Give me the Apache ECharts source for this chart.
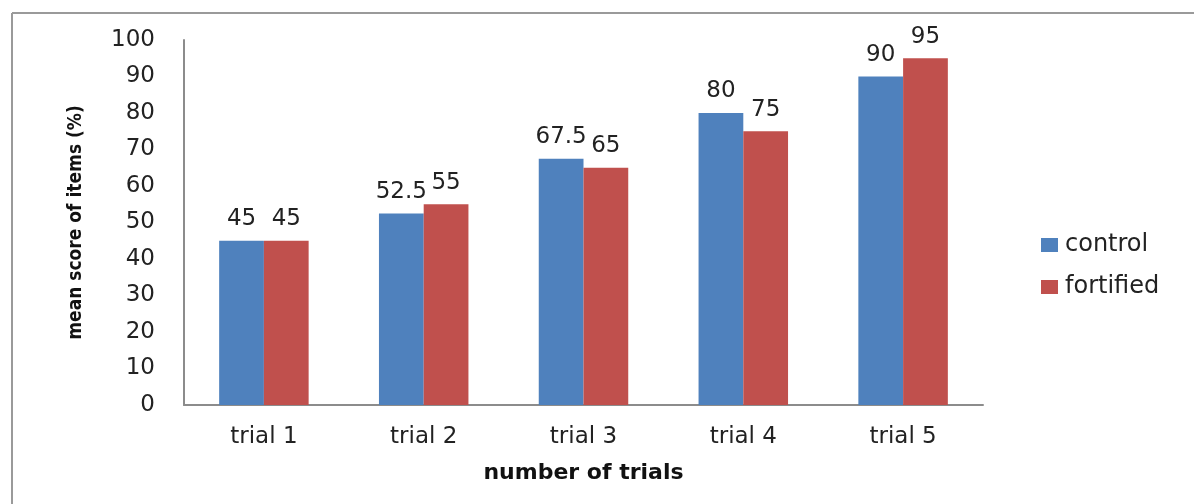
<!DOCTYPE html>
<html>
<head>
<meta charset="utf-8">
<script src="https://cdn.jsdelivr.net/npm/echarts@6/dist/echarts.min.js"></script>
<style>html,body{margin:0;padding:0;background:#fff}#c{width:1194px;height:504px}</style>
</head>
<body>
<div id="c"></div>
<script>
const categories = ['trial 1', 'trial 2', 'trial 3', 'trial 4', 'trial 5'];
const controlValues = [45, 52.5, 67.5, 80, 90];
const fortifiedValues = [45, 55, 65, 75, 95];
const yTicks = [0, 10, 20, 30, 40, 50, 60, 70, 80, 90, 100];

const chart = echarts.init(document.getElementById('c'));
const FONT = 'DejaVu Sans';
const labelStyle = {show: true, position: 'top', distance: 10, fontFamily: FONT, fontSize: 23, color: '#222'};
chart.setOption({
  animation: false,
  backgroundColor: '#fff',
  grid: {left: 184, right: 211, top: 40, bottom: 99},
  legend: {
    orient: 'vertical', left: 1036, top: 228, itemGap: 18,
    itemWidth: 17, itemHeight: 14, icon: 'rect',
    textStyle: {fontFamily: FONT, fontSize: 24, color: '#222', padding: [0, 0, 0, 2]},
    data: ['control', 'fortified']
  },
  xAxis: {
    type: 'category', data: categories,
    name: 'number of trials', nameLocation: 'middle', nameGap: 57,
    nameTextStyle: {fontFamily: 'DejaVu Sans', fontWeight: 'bold', fontSize: 22, color: '#111'},
    axisLine: {lineStyle: {color: '#8c8c8c', width: 2}},
    axisTick: {show: false},
    axisLabel: {fontFamily: FONT, fontSize: 23, color: '#222', margin: 21}
  },
  yAxis: {
    type: 'value', min: yTicks[0], max: yTicks[yTicks.length - 1], interval: yTicks[1] - yTicks[0],
    name: 'mean score of items (%)', nameLocation: 'middle', nameGap: 98, nameRotate: 90,
    nameTextStyle: {fontFamily: 'DejaVu Sans Condensed', fontWeight: 'bold', fontSize: 19, color: '#111'},
    axisLine: {show: true, lineStyle: {color: '#8c8c8c', width: 2}},
    axisTick: {show: false},
    splitLine: {show: false},
    axisLabel: {fontFamily: FONT, fontSize: 23, color: '#222', margin: 29}
  },
  series: [
    {name: 'control', type: 'bar', data: controlValues, barGap: '0%', barCategoryGap: '44%',
     itemStyle: {color: '#4F81BD'}, label: labelStyle},
    {name: 'fortified', type: 'bar', data: fortifiedValues, barGap: '0%', barCategoryGap: '44%',
     itemStyle: {color: '#C0504D'}, label: labelStyle}
  ],
  graphic: [
    {type: 'line', shape: {x1: 12, y1: 13, x2: 1194, y2: 13}, style: {stroke: '#9a9a9a', lineWidth: 2}},
    {type: 'line', shape: {x1: 12, y1: 13, x2: 12, y2: 504}, style: {stroke: '#9a9a9a', lineWidth: 2}}
  ]
});
</script>
</body>
</html>
